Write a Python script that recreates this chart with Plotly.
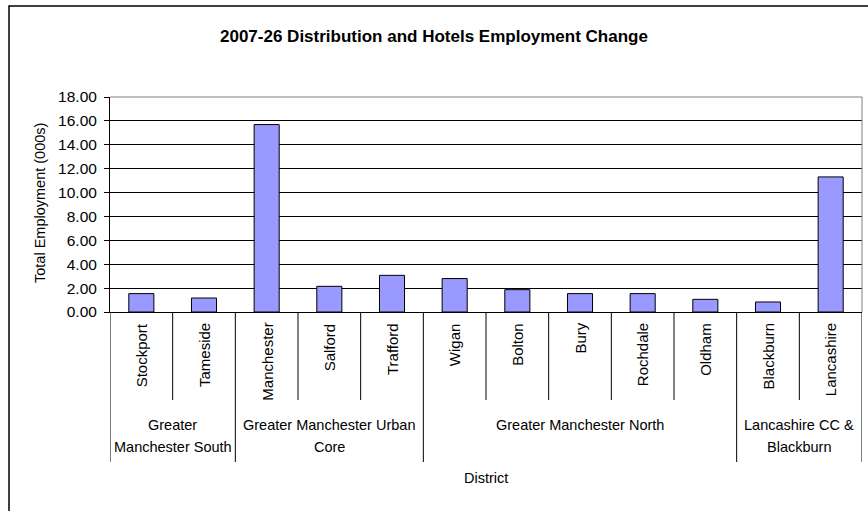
import plotly.graph_objects as go

# District-level employment change, 2007-26 (thousands)
districts = ["Stockport", "Tameside", "Manchester", "Salford", "Trafford",
             "Wigan", "Bolton", "Bury", "Rochdale", "Oldham",
             "Blackburn", "Lancashire"]
values = [1.54, 1.17, 15.69, 2.15, 3.07, 2.80, 1.87, 1.54, 1.54, 1.06, 0.84, 11.31]

# Sub-region groupings (label lines, number of districts in group)
group_labels = [["Greater", "Manchester South"],
                ["Greater Manchester Urban", "Core"],
                ["Greater Manchester North"],
                ["Lancashire CC &", "Blackburn"]]
group_sizes = [2, 3, 5, 2]

y_ticks = [0, 2, 4, 6, 8, 10, 12, 14, 16, 18]

FONT = "Liberation Sans, Arial, sans-serif"
W, H = 868, 511
PL, PR, PT, PB = 110, 862, 97, 312   # plot-area pixel box


def py(pix):
    """pixel row -> paper y"""
    return (PB - pix) / (PB - PT)


def px(pix):
    """pixel column -> paper x"""
    return (pix - PL) / (PR - PL)


fig = go.Figure(go.Bar(
    x=list(range(len(districts))),
    y=values,
    width=0.4,
    marker=dict(color="#9999FF", line=dict(color="#000000", width=1)),
    hovertext=districts,
))

shapes = []
annotations = []

# plot-area frame (top and right)
shapes.append(dict(type="line", xref="paper", yref="paper", x0=0, x1=1, y0=1, y1=1,
                   line=dict(color="#808080", width=1)))
shapes.append(dict(type="line", xref="paper", yref="paper", x0=1, x1=1, y0=0, y1=1,
                   line=dict(color="#808080", width=1)))

# group boundaries (long dividers)
bounds = [0]
for s in group_sizes:
    bounds.append(bounds[-1] + s)
group_edges = set(bounds)

# category dividers
for i in range(len(districts) + 1):
    bottom = py(462) if i in group_edges else py(400)
    shapes.append(dict(type="line", xref="x", yref="paper",
                       x0=i - 0.5, x1=i - 0.5, y0=0, y1=bottom,
                       line=dict(color="#000000", width=1)))

# district labels
for i, name in enumerate(districts):
    annotations.append(dict(x=i, y=py(321), xref="x", yref="paper",
                            text=name, textangle=-90, showarrow=False,
                            xanchor="center", yanchor="top",
                            font=dict(family=FONT, size=15, color="#000000")))

# group labels
line_rows = [425, 447]
for k, lines in enumerate(group_labels):
    center = (bounds[k] + bounds[k + 1] - 1) / 2
    for j, txt in enumerate(lines):
        annotations.append(dict(x=center, y=py(line_rows[j]), xref="x", yref="paper",
                                text=txt, showarrow=False,
                                xanchor="center", yanchor="middle",
                                font=dict(family=FONT, size=14.5, color="#000000")))

# axis titles
annotations.append(dict(x=px(486), y=py(478), xref="paper", yref="paper",
                        text="District", showarrow=False,
                        xanchor="center", yanchor="middle",
                        font=dict(family=FONT, size=14.5, color="#000000")))
annotations.append(dict(x=px(40), y=py(203), xref="paper", yref="paper",
                        text="Total Employment (000s)", textangle=-90, showarrow=False,
                        xanchor="center", yanchor="middle",
                        font=dict(family=FONT, size=14.5, color="#000000")))

# chart title, centred on the whole figure
annotations.append(dict(x=px(W / 2), y=py(37), xref="paper", yref="paper",
                        text="<b>2007-26 Distribution and Hotels Employment Change</b>",
                        showarrow=False, xanchor="center", yanchor="middle",
                        font=dict(family=FONT, size=17, color="#000000")))

# outer chart border
shapes.append(dict(type="rect", xref="paper", yref="paper",
                   x0=px(9), x1=px(W + 20), y0=py(H + 20), y1=py(6),
                   line=dict(color="#000000", width=1.5), fillcolor="rgba(0,0,0,0)"))

fig.update_layout(
    width=W, height=H,
    margin=dict(l=PL, r=W - PR, t=PT, b=H - PB, pad=0),
    paper_bgcolor="#FFFFFF", plot_bgcolor="#FFFFFF",
    showlegend=False,
    font=dict(family=FONT, size=15, color="#000000"),
    shapes=shapes,
    annotations=annotations,
    xaxis=dict(range=[-0.5, len(districts) - 0.5], showticklabels=False,
               showgrid=False, zeroline=False, ticks="",
               showline=True, linecolor="#000000", linewidth=1, fixedrange=True),
    yaxis=dict(range=[0, 18], tickvals=y_ticks, tickformat=".2f",
               showgrid=True, gridcolor="#000000", gridwidth=1,
               ticks="outside", ticklen=5, tickcolor="#000000", tickwidth=1,
               ticklabelstandoff=4,
               showline=True, linecolor="#000000", linewidth=1,
               zeroline=False, fixedrange=True,
               tickfont=dict(family=FONT, size=15.5, color="#000000")),
    bargap=0.6,
)

fig.write_html("out.html")
